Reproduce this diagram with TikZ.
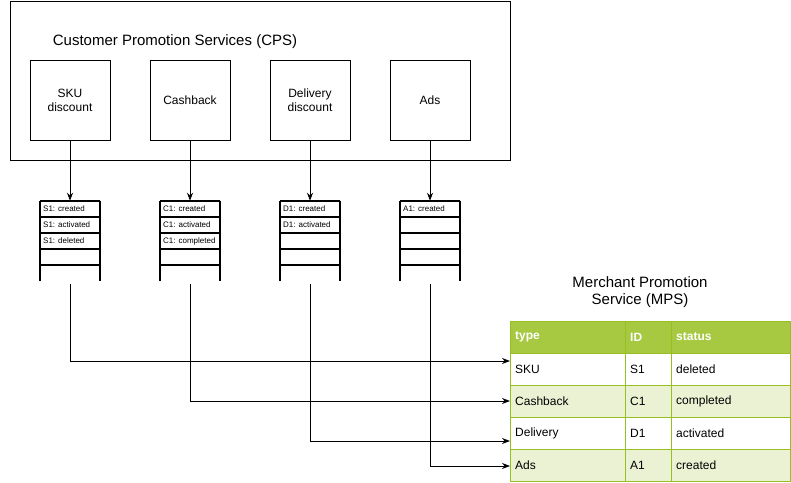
\documentclass[tikz,border=0pt]{standalone}
\usepackage{fontspec}
\setmainfont{Liberation Sans}
\usetikzlibrary{arrows.meta}
\definecolor{hdrgreen}{HTML}{A7C942}
\definecolor{altrow}{HTML}{EAF2D3}
\definecolor{tline}{HTML}{98BF21}
\begin{document}
\begin{tikzpicture}[x=1pt,y=-1pt,
 box/.style={draw,line width=1pt,minimum width=80pt,minimum height=80pt,inner sep=0pt,align=center,font=\fontsize{12}{14}\selectfont},
 qlbl/.style={anchor=west,inner sep=0pt,font=\fontsize{8}{9}\selectfont},
 qframe/.style={minimum width=60pt,minimum height=80pt,inner sep=0pt},
 conn/.style={line width=0.9pt,-{Stealth[length=8pt,width=6pt]}},
 cell/.style={anchor=west,inner sep=0pt,font=\fontsize{12}{14}\selectfont},
 hcell/.style={anchor=west,inner sep=0pt,text=white,font=\fontsize{12}{14}\selectfont\bfseries},
 rowbox/.style={minimum width=280pt,minimum height=32pt,inner sep=0pt,anchor=north west,draw=tline,line width=1pt},
 title/.style={align=center,inner sep=0pt,font=\fontsize{15}{17}\selectfont}]
\useasboundingbox (0,0) rectangle (791,482);
% CPS container
\node[draw,line width=1pt,minimum width=500pt,minimum height=159pt,inner sep=0pt,anchor=north west] (cps) at (10,1) {};
\node[title] (cpstitle) at (175,42) {Customer Promotion Services (CPS)};
\node[box] (sku) at (70,100) {SKU\\discount};
\node[box] (cash) at (190,100) {Cashback};
\node[box] (deliv) at (310,100) {Delivery\\discount};
\node[box] (ads) at (430,100) {Ads};
% queues
\foreach \cx/\nm in {70/qS,190/qC,310/qD,430/qA}{
  \node[qframe] (\nm) at (\cx,241) {};
  \foreach \yy in {201,217,233,249,265}{
    \draw[line width=1.2pt] (\cx-30,\yy) -- (\cx+30,\yy);
  }
  \draw[line width=1.8pt] (\cx-30,200.5) -- (\cx-30,281);
  \draw[line width=1.8pt] (\cx+30,200.5) -- (\cx+30,281);
}
\node[qlbl] (s1a) at (43,209) {S1: created};
\node[qlbl] (s1b) at (43,225) {S1: activated};
\node[qlbl] (s1c) at (43,241) {S1: deleted};
\node[qlbl] (c1a) at (163,209) {C1: created};
\node[qlbl] (c1b) at (163,225) {C1: activated};
\node[qlbl] (c1c) at (163,241) {C1: completed};
\node[qlbl] (d1a) at (283,209) {D1: created};
\node[qlbl] (d1b) at (283,225) {D1: activated};
\node[qlbl] (a1a) at (403,209) {A1: created};
% box -> queue
\draw[conn] (sku) -- (qS);
\draw[conn] (cash) -- (qC);
\draw[conn] (deliv) -- (qD);
\draw[conn] (ads) -- (qA);
% MPS table
\node[title] (mpstitle) at (640,292) {Merchant Promotion\\Service (MPS)};
\node[rowbox,fill=hdrgreen] (hdr) at (510,321) {};
\node[rowbox,fill=white] (r1) at (510,353) {};
\node[rowbox,fill=altrow] (r2) at (510,385) {};
\node[rowbox,fill=white] (r3) at (510,417) {};
\node[rowbox,fill=altrow] (r4) at (510,449) {};
\draw[tline,line width=1pt] (625,321) -- (625,481) (671,321) -- (671,481);
\node[hcell] (h1) at (515,337) {type};
\node[hcell] (h2) at (630,337) {ID};
\node[hcell] (h3) at (676,337) {status};
\node[cell] (t1) at (515,369) {SKU};
\node[cell] (i1) at (630,369) {S1};
\node[cell] (s1) at (676,369) {deleted};
\node[cell] (t2) at (515,401) {Cashback};
\node[cell] (i2) at (630,401) {C1};
\node[cell] (s2) at (676,401) {completed};
\node[cell] (t3) at (515,433) {Delivery};
\node[cell] (i3) at (630,433) {D1};
\node[cell] (s3) at (676,433) {activated};
\node[cell] (t4) at (515,465) {Ads};
\node[cell] (i4) at (630,465) {A1};
\node[cell] (s4) at (676,465) {created};
% queue -> table
\coordinate (eS) at (510,361);
\coordinate (eC) at (510,401);
\coordinate (eD) at (510,441);
\coordinate (eA) at (510,466);
\draw[conn] ([yshift=-3pt]qS.south) |- (eS);
\draw[conn] ([yshift=-3pt]qC.south) |- (eC);
\draw[conn] ([yshift=-3pt]qD.south) |- (eD);
\draw[conn] ([yshift=-3pt]qA.south) |- (eA);
\end{tikzpicture}
\end{document}
